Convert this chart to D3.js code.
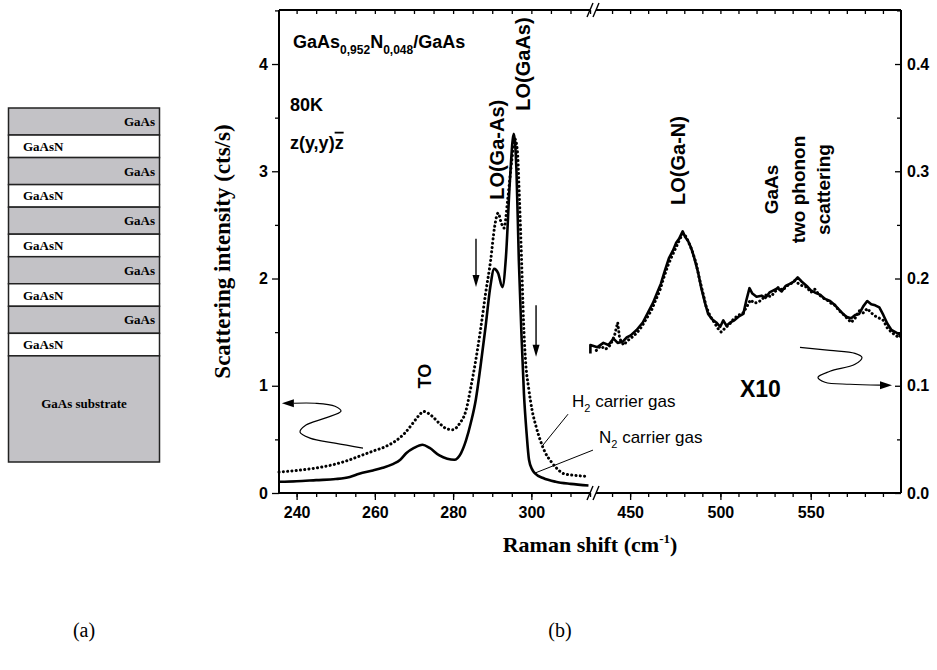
<!DOCTYPE html>
<html>
<head>
<meta charset="utf-8">
<script src="https://cdn.jsdelivr.net/npm/d3@7"></script>
<style>
  body { margin: 0; background: #fff; }
  svg { display: block; }
  text { font-family: "Liberation Sans", Arial, sans-serif; fill: #000; }
  .serif { font-family: "Liberation Serif", "Times New Roman", serif; }
  .tick text { font-weight: bold; font-size: 16px; }
</style>
</head>
<body>
<div id="container"></div>
<script>
/* CONSTANTS AND GLOBALS */
const width = 937, height = 670
const margin = { top: 10, left: 279, right: 36, bottom: 177 }

/* DATA */
// layer stack of panel (a), top to bottom, relative thickness as drawn
const layerNames = ["GaAs", "GaAsN", "GaAs", "GaAsN", "GaAs", "GaAsN", "GaAs", "GaAsN", "GaAs", "GaAsN", "GaAs substrate"]
const layerThickness = [27, 22.5, 27, 22.5, 27, 22.5, 27, 22.5, 27, 22.5, 106]

// low-shift window (cm-1, cts/s)
const n2Low = [[235.5,0.105],[240,0.11],[245,0.12],[250,0.13],[253.6,0.15],[256,0.18],[259.5,0.21],[262,0.235],[264.6,0.27],[266.5,0.31],[268,0.37],[270,0.42],[272.2,0.45],[274,0.42],[276.5,0.35],[278.5,0.32],[280.3,0.31],[282,0.37],[283.3,0.49],[284.5,0.65],[285.8,0.87],[287,1.18],[288.3,1.55],[289.5,1.92],[290.5,2.09],[291.5,2.05],[292.6,1.92],[293.5,2.2],[294.5,2.9],[295.5,3.35],[296.2,3.0],[296.8,2.17],[297.5,1.45],[298.1,0.93],[298.8,0.55],[299.4,0.31],[300.2,0.22],[301,0.18],[303,0.14],[306.2,0.105],[310,0.085],[314.6,0.07]]
const h2Low = [[235.5,0.195],[240,0.21],[246.8,0.245],[250,0.27],[253.6,0.31],[256.5,0.35],[259.5,0.39],[262.5,0.43],[265.5,0.49],[267.7,0.56],[269.7,0.65],[271.2,0.72],[272.5,0.76],[274.5,0.72],[276.5,0.65],[278.3,0.6],[279.9,0.59],[281.7,0.65],[283.3,0.77],[284.5,0.98],[285.8,1.24],[287,1.52],[288.3,1.86],[289.6,2.17],[290.6,2.48],[291.5,2.61],[292.3,2.52],[293,2.47],[294,2.75],[295,3.1],[295.8,3.3],[296.4,3.2],[297,2.7],[297.5,2.17],[298,1.6],[298.5,1.24],[299.3,0.98],[300.2,0.77],[301.2,0.62],[302.3,0.49],[303.5,0.38],[304.9,0.3],[306.5,0.23],[308.3,0.18],[311,0.165],[314.6,0.155]]

// high-shift window, x10 (cm-1, cts/s on right axis)
const n2High = [[428,0.130],[428,0.138],[431.9,0.136],[435.2,0.140],[438,0.138],[440.8,0.144],[443.1,0.140],[445.8,0.141],[448.1,0.145],[450.3,0.147],[453.6,0.152],[457,0.159],[459.8,0.168],[462.6,0.177],[464.8,0.186],[467,0.195],[469.2,0.207],[471.5,0.219],[473.7,0.226],[475.4,0.233],[477.1,0.237],[479.1,0.244],[480.4,0.239],[482.1,0.235],[483.7,0.229],[485.4,0.220],[487.6,0.206],[489.3,0.192],[491.5,0.177],[493.2,0.167],[495.4,0.162],[497.7,0.159],[499.9,0.155],[501.6,0.161],[503.3,0.156],[505.5,0.159],[507.7,0.161],[510.5,0.165],[512.7,0.167],[514.4,0.180],[516.1,0.191],[517.7,0.186],[520,0.183],[522.8,0.184],[525,0.182],[527.2,0.187],[529.4,0.189],[531.7,0.191],[533.9,0.188],[536.1,0.193],[538.4,0.195],[540.6,0.197],[542.8,0.201],[545.1,0.197],[547.8,0.193],[550.1,0.189],[552.3,0.187],[555.1,0.185],[557.9,0.181],[560.7,0.179],[563.5,0.175],[565.7,0.171],[567.9,0.167],[570.1,0.164],[572.4,0.163],[574.6,0.166],[576.8,0.167],[579.1,0.174],[581.3,0.179],[583.5,0.176],[585.7,0.175],[588,0.173],[590.2,0.166],[592.4,0.158],[594.7,0.152],[596.9,0.150],[599.1,0.148],[600,0.149]]
const h2High = [[431.3,0.133],[433.6,0.137],[436.4,0.134],[439.1,0.138],[441.4,0.147],[443.1,0.159],[444.2,0.144],[446.4,0.138],[448.6,0.142],[450.9,0.145],[453.6,0.149],[456.4,0.155],[459.2,0.163],[462,0.171],[464.2,0.180],[466.5,0.189],[468.7,0.201],[470.9,0.212],[473.2,0.221],[475.4,0.229],[477.6,0.237],[479.3,0.242],[481,0.239],[482.6,0.233],[484.3,0.226],[486.6,0.214],[488.2,0.201],[490.4,0.186],[492.1,0.174],[494.3,0.165],[496.6,0.159],[498.8,0.153],[500.5,0.150],[502.7,0.154],[504.9,0.157],[507.2,0.162],[509.9,0.166],[512.2,0.167],[514.4,0.173],[516.6,0.180],[518.9,0.177],[521.1,0.178],[523.3,0.181],[525.5,0.185],[527.8,0.183],[530,0.187],[532.2,0.192],[534.5,0.189],[536.7,0.193],[538.9,0.195],[541.2,0.198],[543.4,0.195],[545.6,0.193],[547.8,0.192],[550.1,0.187],[552.3,0.190],[554.5,0.185],[556.8,0.182],[559,0.180],[561.2,0.177],[563.5,0.175],[565.7,0.170],[567.9,0.167],[570.1,0.163],[572.4,0.159],[574.6,0.163],[576.8,0.170],[579.1,0.168],[581.3,0.172],[583.5,0.168],[585.7,0.165],[588,0.163],[590.2,0.161],[592.4,0.154],[594.7,0.150],[596.9,0.147],[599.1,0.145],[600,0.148]]

// ticks
const xLowTicks = [240, 260, 280, 300]
const xHighTicks = [450, 500, 550]
const yLeftTicks = [0, 1, 2, 3, 4]
const yRightTicks = [0, 0.1, 0.2, 0.3, 0.4]

// curly arrows (cm-1, value) showing which axis each window uses
const leftCurl = [[256.97,0.419],[249.81,0.465],[243.42,0.512],[240.87,0.567],[242.4,0.633],[247.26,0.698],[251.35,0.763],[249.81,0.809],[244.7,0.837],[239.3,0.837]]
const rightCurl = [[544.06,0.1358],[560.67,0.133],[574.52,0.1302],[578.39,0.1265],[574.52,0.12],[560.67,0.1135],[554.03,0.1079],[557.9,0.1033],[571.75,0.1014],[588.37,0.1005]]

/* SCALES */
const plotLeft = margin.left, plotRight = width - margin.right
const plotTop = margin.top, plotBottom = height - margin.bottom
const breakX = 592

const xLo = d3.scaleLinear().domain([235.5, 315.5]).range([plotLeft, breakX])
const xHi = d3.scaleLinear().domain([430, 600]).range([594, plotRight])
const yL = d3.scaleLinear().domain([0, 4.5]).range([plotBottom, plotTop + 0.4])
const yR = d3.scaleLinear().domain([0, 0.45]).range([plotBottom, plotTop + 0.4])

/* HTML ELEMENTS */
const svg = d3.select("#container")
  .append("svg")
  .attr("width", width)
  .attr("height", height)

// ---- panel (a): layer stack
const stackY = d3.scaleLinear()
  .domain([0, d3.sum(layerThickness)])
  .range([108, 462])
const tops = d3.cumsum([0].concat(layerThickness))
const layers = layerNames.map((name, i) => ({ name, y0: tops[i], y1: tops[i + 1] }))

const stack = svg.append("g")
stack.selectAll("rect")
  .data(layers)
  .join("rect")
  .attr("x", 8.5)
  .attr("width", 151)
  .attr("y", d => stackY(d.y0))
  .attr("height", d => stackY(d.y1) - stackY(d.y0))
  .attr("fill", d => d.name === "GaAsN" ? "#fff" : "#c3c2c6")
  .attr("stroke", "#222")
  .attr("stroke-width", 1.5)

stack.selectAll("text")
  .data(layers)
  .join("text")
  .attr("class", "serif")
  .attr("x", d => d.name === "GaAs" ? 155 : (d.name === "GaAsN" ? 23 : 84))
  .attr("y", d => d.name === "GaAs substrate"
      ? stackY(d.y0) + (stackY(d.y1) - stackY(d.y0)) * 0.45
      : (stackY(d.y0) + stackY(d.y1)) / 2)
  .attr("dy", "0.35em")
  .attr("text-anchor", d => d.name === "GaAs" ? "end" : (d.name === "GaAsN" ? "start" : "middle"))
  .style("font-weight", "bold")
  .style("font-size", "13px")
  .text(d => d.name)

// ---- panel (b): axes
const axes = svg.append("g")

function bottomAxis(scale, major, minor) {
  axes.append("g")
    .attr("transform", `translate(0,${plotBottom})`)
    .call(d3.axisBottom(scale).tickValues(minor).tickSize(4).tickFormat(""))
    .call(g => g.select(".domain").remove())
  axes.append("g")
    .attr("transform", `translate(0,${plotBottom})`)
    .call(d3.axisBottom(scale).tickValues(major).tickSize(7).tickPadding(7))
    .call(g => g.select(".domain").remove())
  axes.append("g")
    .attr("transform", `translate(0,${plotTop})`)
    .call(d3.axisTop(scale).tickValues(minor).tickSize(-4).tickFormat(""))
    .call(g => g.select(".domain").remove())
}
bottomAxis(xLo, xLowTicks, d3.range(240, 316, 5))
bottomAxis(xHi, xHighTicks, d3.range(440, 600, 10))

axes.append("g")
  .attr("transform", `translate(${plotLeft},0)`)
  .call(d3.axisLeft(yL).tickValues(d3.range(0.5, 4.6, 1)).tickSize(4).tickFormat(""))
  .call(g => g.select(".domain").remove())
axes.append("g")
  .attr("transform", `translate(${plotLeft},0)`)
  .call(d3.axisLeft(yL).tickValues(yLeftTicks).tickSize(7).tickPadding(4).tickFormat(d3.format("d")))
  .call(g => g.select(".domain").remove())

axes.append("g")
  .attr("transform", `translate(${plotRight},0)`)
  .call(d3.axisRight(yR).tickValues(d3.range(0.05, 0.46, 0.1)).tickSize(-4).tickFormat(""))
  .call(g => g.select(".domain").remove())
axes.append("g")
  .attr("transform", `translate(${plotRight},0)`)
  .call(d3.axisRight(yR).tickValues(yRightTicks).tickSize(-6).tickPadding(6).tickFormat(d3.format(".1f")))
  .call(g => g.select(".domain").remove())

axes.selectAll(".tick line").attr("stroke", "#000").attr("stroke-width", 1.3)

// frame with the broken x axis
const frame = [
  [[plotLeft, plotTop], [plotLeft, plotBottom]],
  [[plotRight, plotTop], [plotRight, plotBottom]],
  [[plotLeft, plotBottom], [breakX - 2, plotBottom]],
  [[breakX + 4, plotBottom], [plotRight, plotBottom]],
  [[plotLeft, plotTop], [breakX - 2, plotTop]],
  [[breakX + 4, plotTop], [plotRight, plotTop]]
]
axes.selectAll("line.frame")
  .data(frame)
  .join("line")
  .attr("class", "frame")
  .attr("x1", d => d[0][0]).attr("y1", d => d[0][1])
  .attr("x2", d => d[1][0]).attr("y2", d => d[1][1])
  .attr("stroke", "#000")
  .attr("stroke-width", 2)

// break marks "//"
const breaks = [plotBottom, plotTop].flatMap(y => [[breakX - 2, y], [breakX + 4, y]])
axes.selectAll("line.brk")
  .data(breaks)
  .join("line")
  .attr("class", "brk")
  .attr("x1", d => d[0] - 3).attr("y1", d => d[1] + 7)
  .attr("x2", d => d[0] + 3).attr("y2", d => d[1] - 7)
  .attr("stroke", "#000")
  .attr("stroke-width", 1.4)

// axis titles
svg.append("text")
  .attr("class", "serif")
  .attr("transform", `translate(230,${(plotTop + plotBottom) / 2}) rotate(-90)`)
  .attr("text-anchor", "middle")
  .style("font-weight", "bold")
  .style("font-size", "23px")
  .text("Scattering intensity (cts/s)")

const xTitle = svg.append("text")
  .attr("class", "serif")
  .attr("x", (plotLeft + plotRight) / 2)
  .attr("y", 552)
  .attr("text-anchor", "middle")
  .style("font-weight", "bold")
  .style("font-size", "22px")
xTitle.append("tspan").text("Raman shift (cm")
xTitle.append("tspan").attr("dy", -9).style("font-size", "13px").text("-1")
xTitle.append("tspan").attr("dy", 9).text(")")

// ---- spectra
const lineLo = d3.line().x(d => xLo(d[0])).y(d => yL(d[1])).curve(d3.curveMonotoneX)
const lineHi = d3.line().x(d => xHi(d[0])).y(d => yR(d[1]))

const spectra = [
  { data: h2Low, line: lineLo, dotted: true },
  { data: n2Low, line: lineLo, dotted: false },
  { data: h2High, line: lineHi, dotted: true },
  { data: n2High, line: lineHi, dotted: false }
]
svg.append("g")
  .selectAll("path")
  .data(spectra)
  .join("path")
  .attr("d", d => d.line(d.data))
  .attr("fill", "none")
  .attr("stroke", "#000")
  .attr("stroke-width", d => d.dotted ? 3 : 2.6)
  .attr("stroke-linecap", d => d.dotted ? "round" : "butt")
  .attr("stroke-linejoin", "round")
  .attr("stroke-dasharray", d => d.dotted ? "0.1 4.2" : null)

// ---- annotations
const ann = svg.append("g")

function label(x, y, txt, size, rotate) {
  return ann.append("text")
    .attr("transform", `translate(${x},${y})` + (rotate ? " rotate(-90)" : ""))
    .attr("text-anchor", rotate ? "middle" : "start")
    .style("font-weight", "bold")
    .style("font-size", size + "px")
    .text(txt)
}

const title = ann.append("text")
  .attr("x", xLo(239.1)).attr("y", yL(4.15))
  .style("font-weight", "bold").style("font-size", "18px")
title.append("tspan").text("GaAs")
title.append("tspan").attr("dy", 6).style("font-size", "12px").text("0,952")
title.append("tspan").attr("dy", -6).text("N")
title.append("tspan").attr("dy", 6).style("font-size", "12px").text("0,048")
title.append("tspan").attr("dy", -6).text("/GaAs")

label(xLo(238.3), yL(3.56), "80K", 18, false)
const geom = ann.append("text")
  .attr("x", xLo(238.3)).attr("y", yL(3.21))
  .style("font-weight", "bold").style("font-size", "18px")
geom.append("tspan").text("z(y,y)")
geom.append("tspan").style("text-decoration", "overline").text("z")

label(xLo(299.7), yL(4.0), "LO(GaAs)", 20, true)
label(xLo(293.0), yL(3.2), "LO(Ga-As)", 20, true)
label(xLo(274.3), yL(1.09), "TO", 18, true)
label(xHi(480.4), yR(0.31), "LO(Ga-N)", 20, true)
label(xHi(531.9), yR(0.283), "GaAs", 19, true)
label(xHi(546.9), yR(0.283), "two phonon", 19, true)
label(xHi(560.7), yR(0.283), "scattering", 19, true)
label(xHi(510.8), yR(0.0893), "X10", 23, false)

// down arrows marking the LO modes
const downArrows = [[285.85, 2.37, 1.92], [301.2, 1.75, 1.27]]
downArrows.forEach(([cm, v0, v1]) => {
  const x = xLo(cm)
  ann.append("line")
    .attr("x1", x).attr("x2", x)
    .attr("y1", yL(v0)).attr("y2", yL(v1) - 10)
    .attr("stroke", "#000").attr("stroke-width", 1.4)
  ann.append("path")
    .attr("d", `M${x - 3.5},${yL(v1) - 12}L${x + 3.5},${yL(v1) - 12}L${x},${yL(v1)}Z`)
    .attr("fill", "#000")
})

// carrier gas labels and leaders
const gasLabels = [
  { gas: "H", x: xLo(310.4), y: yL(0.80), from: [xLo(309.37), yL(0.735)], to: [xLo(302.98), yL(0.447)] },
  { gas: "N", x: xLo(317.3), y: yL(0.465), from: [xLo(315.75), yL(0.40)], to: [xLo(300.93), yL(0.186)] }
]
gasLabels.forEach(g => {
  const t = ann.append("text").attr("x", g.x).attr("y", g.y).style("font-size", "17px")
  t.append("tspan").text(g.gas)
  t.append("tspan").attr("dy", 5).style("font-size", "11px").text("2")
  t.append("tspan").attr("dy", -5).text(" carrier gas")
  ann.append("line")
    .attr("x1", g.from[0]).attr("y1", g.from[1])
    .attr("x2", g.to[0]).attr("y2", g.to[1])
    .attr("stroke", "#000").attr("stroke-width", 1)
})

// curly arrows
const curlLo = d3.line().x(d => xLo(d[0])).y(d => yL(d[1])).curve(d3.curveCatmullRom)
const curlHi = d3.line().x(d => xHi(d[0])).y(d => yR(d[1])).curve(d3.curveCatmullRom)
ann.append("path").attr("d", curlLo(leftCurl)).attr("fill", "none").attr("stroke", "#000").attr("stroke-width", 1.2)
ann.append("path").attr("d", curlHi(rightCurl)).attr("fill", "none").attr("stroke", "#000").attr("stroke-width", 1.2)
const tipL = [xLo(leftCurl[leftCurl.length - 1][0]), yL(leftCurl[leftCurl.length - 1][1])]
const tipR = [xHi(rightCurl[rightCurl.length - 1][0]), yR(rightCurl[rightCurl.length - 1][1])]
ann.append("path")
  .attr("d", `M${tipL[0] - 12},${tipL[1]}L${tipL[0]},${tipL[1] - 4}L${tipL[0]},${tipL[1] + 4}Z`)
  .attr("fill", "#000")
ann.append("path")
  .attr("d", `M${tipR[0] + 12},${tipR[1]}L${tipR[0]},${tipR[1] - 4}L${tipR[0]},${tipR[1] + 4}Z`)
  .attr("fill", "#000")

// panel letters
svg.selectAll("text.panel")
  .data([["(a)", 84], ["(b)", 560]])
  .join("text")
  .attr("class", "serif panel")
  .attr("x", d => d[1])
  .attr("y", 637)
  .attr("text-anchor", "middle")
  .style("font-size", "20px")
  .text(d => d[0])
</script>
</body>
</html>
